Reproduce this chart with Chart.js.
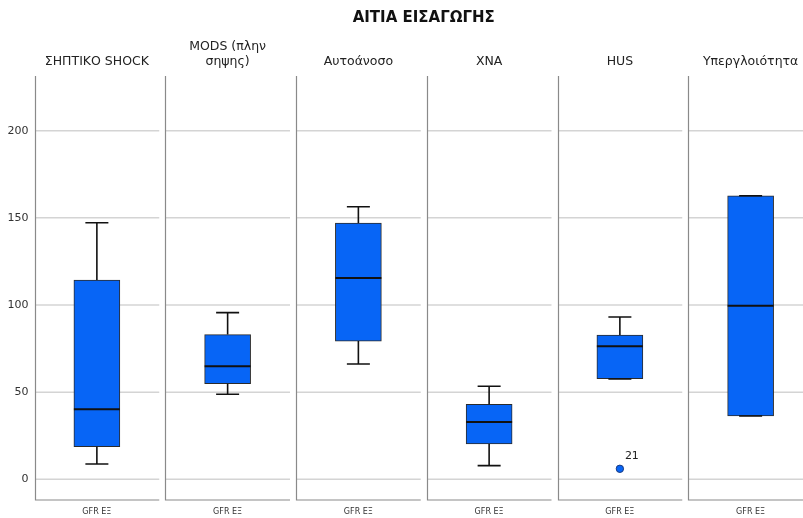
<!DOCTYPE html>
<html>
<head>
<meta charset="utf-8">
<script src="https://cdn.jsdelivr.net/npm/chart.js@4/dist/chart.umd.min.js"></script>
<style>
  html, body { margin: 0; padding: 0; background: #ffffff; overflow: hidden; }
  #wrap { width: 803px; height: 518px; overflow: hidden; }
  canvas { display: block; }
</style>
</head>
<body>
<div id="wrap"><canvas id="c" width="816" height="518"></canvas></div>
<script>
// Admission cause groups (one panel each)
const categories = ['ΣΗΠΤΙΚΟ SHOCK', ['MODS (πλην', 'σηψης)'], 'Αυτοάνοσο', 'ΧΝΑ', 'HUS', 'Υπεργλοιότητα'];
const variableLabel = 'GFR ΕΞ';
const chartTitle = 'ΑΙΤΙΑ ΕΙΣΑΓΩΓΗΣ';

// Five-number summaries of GFR at discharge per group
const whiskerLow = [8.8, 48.8, 66.1, 7.8, 57.5, 36.3];
const quartile1  = [18.7, 54.8, 79.3, 20.3, 57.7, 36.3];
const medians    = [40.2, 64.8, 115.5, 32.9, 76.3, 99.6];
const quartile3  = [114.3, 83.0, 147.0, 43.0, 82.8, 162.7];
const whiskerHigh = [147.2, 95.6, 156.4, 53.4, 93.1, 162.7];

// Outliers: value per group (null = none) and case id
const outliers   = [null, null, null, null, 6.0, null];
const outlierIds = [null, null, null, null, '21', null];

// Axis ticks
const yTicks = { min: -11.9, max: 231.4, step: 50 };

const BLUE = '#0765f6';
const FONT = '"DejaVu Sans", "Noto Sans", sans-serif';

const boxPlotPlugin = {
  id: 'boxPlotPanels',
  beforeDatasetsDraw(chart) {
    const { ctx, chartArea, scales } = chart;
    const x = scales.x, y = scales.y;
    const step = x.getPixelForValue(1) - x.getPixelForValue(0);
    const half = (step - 6) / 2;
    ctx.save();
    for (let i = 0; i < categories.length; i++) {
      const cx = x.getPixelForValue(i);
      const left = Math.round(cx - half) + 0.5;
      const right = cx + half;
      // grid lines
      ctx.strokeStyle = '#d4d4d4';
      ctx.lineWidth = 1.5;
      y.ticks.forEach(t => {
        const py = y.getPixelForValue(t.value);
        ctx.beginPath();
        ctx.moveTo(left, py);
        ctx.lineTo(right, py);
        ctx.stroke();
      });
      // panel frame: left and bottom
      ctx.strokeStyle = '#8a8a8a';
      ctx.lineWidth = 1.2;
      ctx.beginPath();
      ctx.moveTo(left, chartArea.top);
      ctx.lineTo(left, chartArea.bottom);
      ctx.lineTo(right, chartArea.bottom);
      ctx.stroke();
    }
    ctx.restore();
  },
  afterDatasetsDraw(chart) {
    const { ctx, chartArea, scales } = chart;
    const x = scales.x, y = scales.y;
    const boxW = 46, capW = 23;
    ctx.save();
    ctx.strokeStyle = '#111111';
    ctx.lineCap = 'butt';
    for (let i = 0; i < categories.length; i++) {
      const cx = x.getPixelForValue(i);
      const pHi = y.getPixelForValue(whiskerHigh[i]);
      const pQ3 = y.getPixelForValue(quartile3[i]);
      const pQ1 = y.getPixelForValue(quartile1[i]);
      const pLo = y.getPixelForValue(whiskerLow[i]);
      const pMed = y.getPixelForValue(medians[i]);
      ctx.lineWidth = 1.6;
      // whisker stems
      ctx.beginPath();
      ctx.moveTo(cx, pQ3); ctx.lineTo(cx, pHi);
      ctx.moveTo(cx, pQ1); ctx.lineTo(cx, pLo);
      ctx.stroke();
      // whisker caps
      ctx.beginPath();
      ctx.moveTo(cx - capW / 2, pHi); ctx.lineTo(cx + capW / 2, pHi);
      ctx.moveTo(cx - capW / 2, pLo); ctx.lineTo(cx + capW / 2, pLo);
      ctx.stroke();
      // median
      ctx.lineWidth = 2;
      ctx.beginPath();
      ctx.moveTo(cx - boxW / 2, pMed); ctx.lineTo(cx + boxW / 2, pMed);
      ctx.stroke();
    }
    // outlier case labels
    const meta = chart.getDatasetMeta(1);
    ctx.fillStyle = '#222222';
    ctx.font = '11px ' + FONT;
    ctx.textAlign = 'left';
    ctx.textBaseline = 'middle';
    meta.data.forEach((pt, i) => {
      if (outliers[i] == null) return;
      ctx.fillText(outlierIds[i], pt.x + 5, pt.y - 13);
    });
    // chart title
    ctx.fillStyle = '#111111';
    ctx.font = 'bold 15px ' + FONT;
    ctx.textAlign = 'center';
    ctx.fillText(chartTitle, (chartArea.left + chartArea.right) / 2, 18);
    ctx.restore();
  }
};

new Chart(document.getElementById('c'), {
  data: {
    labels: categories,
    datasets: [
      {
        type: 'bar',
        data: categories.map((_, i) => [quartile1[i], quartile3[i]]),
        backgroundColor: BLUE,
        borderColor: '#2b2b2b',
        borderWidth: 1,
        borderSkipped: false,
        barThickness: 46,
        xAxisID: 'x',
        yAxisID: 'y'
      },
      {
        type: 'line',
        data: outliers,
        showLine: false,
        pointRadius: 3.7,
        pointBackgroundColor: BLUE,
        pointBorderColor: '#1a3a80',
        pointBorderWidth: 1,
        xAxisID: 'x',
        yAxisID: 'y'
      }
    ]
  },
  options: {
    responsive: false,
    animation: false,
    devicePixelRatio: 1,
    layout: { padding: 0, autoPadding: false },
    plugins: { legend: { display: false }, tooltip: { enabled: false }, title: { display: false } },
    scales: {
      x: {
        type: 'category',
        position: 'top',
        offset: true,
        grid: { display: false, drawTicks: false },
        border: { display: false },
        ticks: {
          color: '#222222',
          font: { family: FONT, size: 12.5, lineHeight: 1.25 },
          padding: 6,
          maxRotation: 0,
          autoSkip: false
        },
        afterFit(s) { s.height = 76; }
      },
      x2: {
        type: 'category',
        position: 'bottom',
        offset: true,
        labels: categories.map(() => variableLabel),
        grid: { display: false, drawTicks: false },
        border: { display: false },
        ticks: { color: '#333333', font: { family: FONT, size: 8 }, padding: 7, maxRotation: 0, autoSkip: false },
        afterFit(s) { s.height = 18; }
      },
      y: {
        type: 'linear',
        min: yTicks.min,
        max: yTicks.max,
        grid: { display: false, drawTicks: false },
        border: { display: false },
        ticks: {
          stepSize: yTicks.step,
          includeBounds: false,
          color: '#333333',
          font: { family: FONT, size: 11 },
          padding: 3
        },
        afterFit(s) { s.width = 31.5; }
      }
    }
  },
  plugins: [boxPlotPlugin]
});
</script>
</body>
</html>
